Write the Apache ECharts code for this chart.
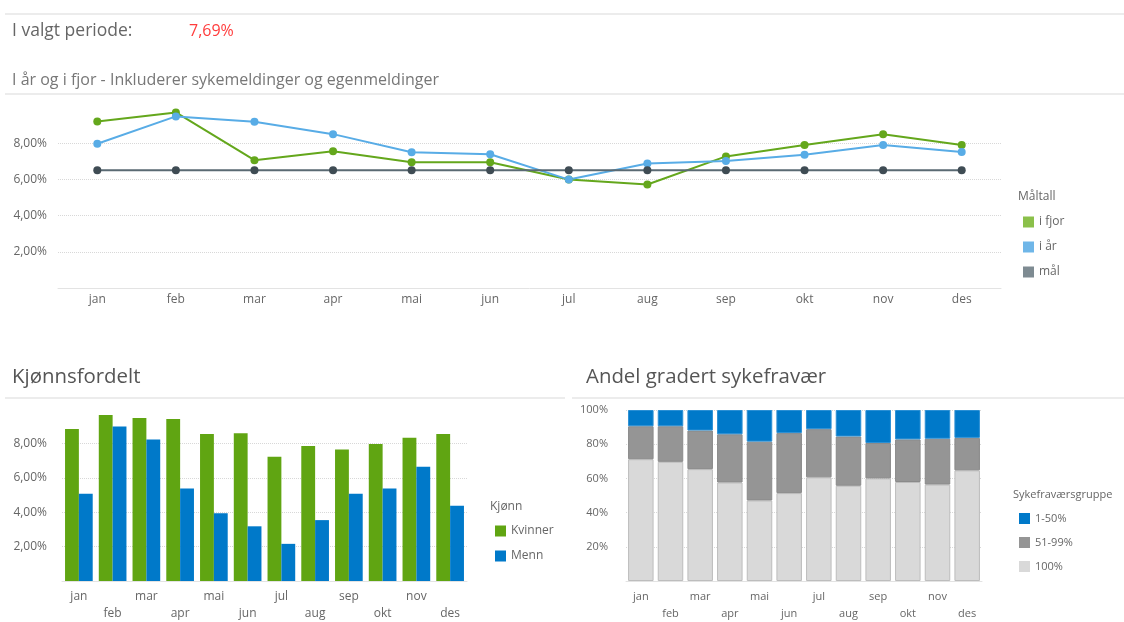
<!DOCTYPE html>
<html>
<head>
    <meta charset="UTF-8">
    <title>Sykefravær</title>
    <script src="https://cdn.jsdelivr.net/npm/echarts@6/dist/echarts.min.js"></script>
    <style>
        html, body { margin: 0; padding: 0; background: #fff; }
        #main { width: 1124px; height: 622px; }
    </style>
</head>
<body>
<div id="main"></div>
<script>
    // data
    var months = ['jan', 'feb', 'mar', 'apr', 'mai', 'jun', 'jul', 'aug', 'sep', 'okt', 'nov', 'des'];
    var iFjor = [9.2, 9.7, 7.06, 7.55, 6.95, 6.95, 6.0, 5.72, 7.27, 7.9, 8.5, 7.9];
    var iAar = [7.97, 9.48, 9.18, 8.5, 7.5, 7.39, 5.99, 6.88, 7.01, 7.36, 7.9, 7.52];
    var maal = [6.5, 6.5, 6.5, 6.5, 6.5, 6.5, 6.5, 6.5, 6.5, 6.5, 6.5, 6.5];
    var kvinner = [8.84, 9.65, 9.47, 9.42, 8.54, 8.59, 7.22, 7.85, 7.64, 7.96, 8.33, 8.54];
    var menn = [5.07, 8.98, 8.23, 5.38, 3.94, 3.18, 2.16, 3.54, 5.07, 5.38, 6.64, 4.38];
    var grp1til50 = [9.5, 9.5, 12, 14.2, 18.5, 13.5, 11.2, 15.5, 19.3, 17.2, 16.8, 16.3];
    var grp51til99 = [19.3, 20.8, 22.6, 28.2, 34.4, 35.1, 28.2, 28.8, 20.7, 24.9, 26.8, 19.0];
    var grp100 = [71.2, 69.7, 65.4, 57.6, 47.1, 51.4, 60.6, 55.7, 60.0, 57.9, 56.4, 64.7];

    var font = '"Open Sans", "Noto Sans", sans-serif';
    var txt = '#666';

    function pst(v) { return v.toFixed(2).replace('.', ',') + '%'; }
    function toRader(v, i) { return i % 2 ? '\n' + v : v; }

    var gridLine = { show: true, showMaxLine: false, lineStyle: { type: 'dotted', color: '#d8d8d8' } };
    var bunnLinje = { show: true, lineStyle: { color: '#e3e3e3', width: 1 } };

    var myChart = echarts.init(document.getElementById('main'));

    var option = {
        textStyle: { fontFamily: font },
        animation: false,
        graphic: [
            { type: 'rect', shape: { x: 5, y: 13, width: 1119, height: 2 }, style: { fill: '#ececec' } },
            { type: 'text', left: 12, top: 22, style: { text: 'I valgt periode:', font: '17.5px ' + font, fill: '#666' } },
            { type: 'text', left: 189, top: 23, style: { text: '7,69%', font: '16px ' + font, fill: '#ff3c3c' } },
            { type: 'text', left: 12, top: 72, style: { text: 'I år og i fjor - Inkluderer sykemeldinger og egenmeldinger', font: '16px ' + font, fill: '#777' } },
            { type: 'rect', shape: { x: 5, y: 93, width: 1119, height: 2 }, style: { fill: '#ececec' } },
            { type: 'text', left: 12, top: 367, style: { text: 'Kjønnsfordelt', font: '20.4px ' + font, fill: '#555' } },
            { type: 'rect', shape: { x: 5, y: 397, width: 560, height: 2 }, style: { fill: '#ececec' } },
            { type: 'text', left: 586, top: 367, style: { text: 'Andel gradert sykefravær', font: '20.4px ' + font, fill: '#555' } },
            { type: 'rect', shape: { x: 572, y: 397, width: 552, height: 2 }, style: { fill: '#ececec' } },
            { type: 'text', left: 1018, top: 191, style: { text: 'Måltall', font: '12px ' + font, fill: txt } },
            { type: 'text', left: 490, top: 501, style: { text: 'Kjønn', font: '12px ' + font, fill: txt } },
            { type: 'text', left: 1013, top: 489, style: { text: 'Sykefraværsgruppe', font: '11px ' + font, fill: txt } }
        ],
        legend: [
            {
                orient: 'vertical', left: 1018, top: 211, itemWidth: 11, itemHeight: 11, itemGap: 13,
                icon: 'rect', textStyle: { color: txt, fontSize: 12 },
                data: [
                    { name: 'i fjor', itemStyle: { color: '#8bc04a' } },
                    { name: 'i år', itemStyle: { color: '#6fb6e8' } },
                    { name: 'mål', itemStyle: { color: '#7e8b92' } }
                ]
            },
            {
                orient: 'vertical', left: 490, top: 520, itemWidth: 11, itemHeight: 11, itemGap: 13,
                icon: 'rect', textStyle: { color: txt, fontSize: 12 },
                data: ['Kvinner', 'Menn']
            },
            {
                orient: 'vertical', left: 1014, top: 508, itemWidth: 11, itemHeight: 11, itemGap: 13,
                icon: 'rect', textStyle: { color: txt, fontSize: 11 },
                itemStyle: { borderWidth: 0 },
                data: ['1-50%', '51-99%', '100%']
            }
        ],
        grid: [
            { left: 58, right: 123, top: 107, bottom: 334 },
            { left: 62, right: 657, top: 409, bottom: 38 },
            { left: 626, right: 142, top: 410, bottom: 34 }
        ],
        xAxis: [
            {
                gridIndex: 0, type: 'category', data: months,
                axisLine: bunnLinje, axisTick: { show: false },
                axisLabel: { color: txt, fontSize: 12, margin: 6 }
            },
            {
                gridIndex: 1, type: 'category', data: months,
                axisLine: bunnLinje, axisTick: { show: false },
                axisLabel: { color: txt, fontSize: 12, margin: 7, interval: 0, lineHeight: 17, formatter: toRader }
            },
            {
                gridIndex: 2, type: 'category', data: months,
                axisLine: bunnLinje, axisTick: { show: false },
                axisLabel: { color: txt, fontSize: 11, margin: 7, interval: 0, lineHeight: 17, formatter: toRader }
            }
        ],
        yAxis: [
            {
                gridIndex: 0, type: 'value', min: 0, max: 10, interval: 2,
                axisLabel: { color: txt, fontSize: 12, margin: 11, showMinLabel: false, showMaxLabel: false, formatter: pst },
                splitLine: gridLine
            },
            {
                gridIndex: 1, type: 'value', min: 0, max: 10, interval: 2,
                axisLabel: { color: txt, fontSize: 12, margin: 15, showMinLabel: false, showMaxLabel: false, formatter: pst },
                splitLine: gridLine
            },
            {
                gridIndex: 2, type: 'value', min: 0, max: 100, interval: 20,
                axisLabel: { color: txt, fontSize: 11, margin: 18, showMinLabel: false, formatter: '{value}%' },
                splitLine: { show: true, lineStyle: { type: 'dotted', color: '#d8d8d8' } }
            }
        ],
        series: [
            {
                name: 'i fjor', type: 'line', xAxisIndex: 0, yAxisIndex: 0, data: iFjor,
                symbol: 'circle', symbolSize: 8, lineStyle: { width: 2, color: '#64a71c' },
                itemStyle: { color: '#64a71c' }
            },
            {
                name: 'i år', type: 'line', xAxisIndex: 0, yAxisIndex: 0, data: iAar,
                symbol: 'circle', symbolSize: 8, lineStyle: { width: 2, color: '#58ace6' },
                itemStyle: { color: '#58ace6' }
            },
            {
                name: 'mål', type: 'line', xAxisIndex: 0, yAxisIndex: 0, data: maal,
                symbol: 'circle', symbolSize: 8, lineStyle: { width: 2, color: '#5a6a73' },
                itemStyle: { color: '#3f4c54' }
            },
            {
                name: 'Kvinner', type: 'bar', xAxisIndex: 1, yAxisIndex: 1, data: kvinner,
                barGap: '0%', barCategoryGap: '18%', itemStyle: { color: '#60a512' }
            },
            {
                name: 'Menn', type: 'bar', xAxisIndex: 1, yAxisIndex: 1, data: menn,
                itemStyle: { color: '#0079c9' }
            },
            {
                name: '100%', type: 'bar', stack: 'gruppe', xAxisIndex: 2, yAxisIndex: 2, data: grp100,
                barCategoryGap: '14%', itemStyle: { color: '#d9d9d9', borderColor: '#bdbdbd', borderWidth: 1 }
            },
            {
                name: '51-99%', type: 'bar', stack: 'gruppe', xAxisIndex: 2, yAxisIndex: 2, data: grp51til99,
                itemStyle: { color: '#959595', borderColor: '#8a8a8a', borderWidth: 1 }
            },
            {
                name: '1-50%', type: 'bar', stack: 'gruppe', xAxisIndex: 2, yAxisIndex: 2, data: grp1til50,
                itemStyle: { color: '#0079c9', borderColor: '#2a8fd4', borderWidth: 1 }
            }
        ]
    };

    myChart.setOption(option);
</script>
</body>
</html>
